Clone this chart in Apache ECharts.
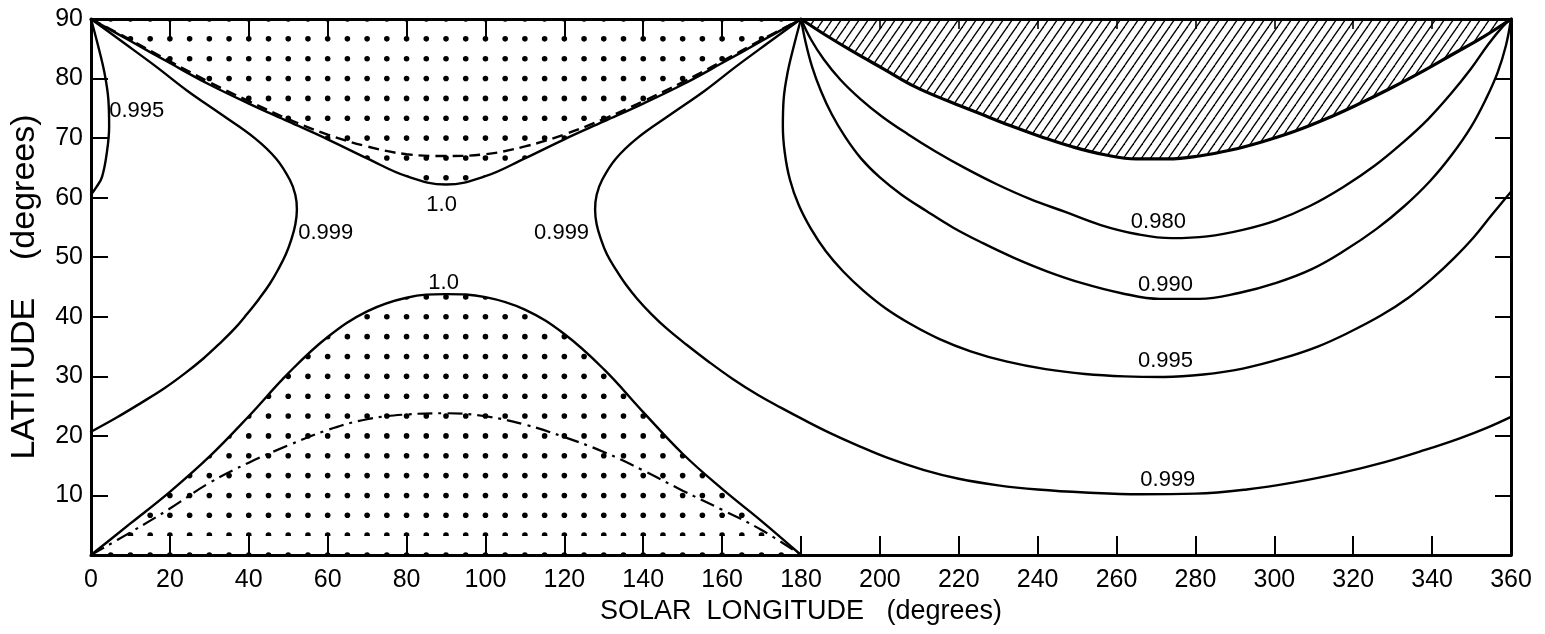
<!DOCTYPE html>
<html>
<head>
<meta charset="utf-8">
<script src="https://cdn.jsdelivr.net/npm/echarts@6/dist/echarts.min.js"></script>
<style>
  html, body { margin: 0; padding: 0; background: #fff; }
  #chart { width: 1545px; height: 634px; }
</style>
</head>
<body>
<div id="chart"></div>
<script>
// ---- values (x = solar longitude, y = latitude, degrees) ----
const lonStep = [0, 10, 20, 30, 40, 50, 60, 70, 80, 90, 100, 110, 120, 130, 140, 150, 160, 170, 180]
// upper "1.0" contour, dotted above
const upper10 = [90, 86.3, 82.6, 79, 75.8, 72.8, 69.8, 66.6, 63.6, 62.2, 63.6, 66.6, 69.8, 72.8, 75.8, 79, 82.6, 86.3, 90]
// dashed curve
const dashed = [90, 86.5, 82.9, 79.4, 76.2, 73.2, 70.6, 68.6, 67.3, 67, 67.3, 68.6, 70.6, 73.2, 76.2, 79.4, 82.9, 86.5, 90]
// lower "1.0" contour, dotted below
const lower10 = [0, 5.3, 10.6, 16.5, 23.3, 30.5, 36.6, 40.9, 43.2, 43.8, 43.3, 41.2, 37.1, 31.2, 24, 17, 11.1, 5.7, 0]
// dash-dot curve
const dashDot = [0, 3.8, 7.8, 12.1, 15.5, 18.4, 21.0, 22.8, 23.6, 23.8, 23.3, 21.9, 19.8, 17.3, 14.2, 10.8, 7.6, 4.2, 0]

// 0.999, left branch
const c999Lx = [0, 8.3, 16.5, 24.3, 33, 41.5, 47, 50.4, 51.8, 52.2, 51.8, 50.8, 49.4, 47.5, 45.3, 42.6, 39.6, 36.4, 32.6, 28.5, 23.8, 18.6, 12.6, 6.3, 0]
const c999Ly = [90, 86, 82, 78, 74, 70, 66.5, 63, 60.5, 58, 55.5, 53, 50.5, 48, 45.5, 43, 40.5, 38, 35.5, 33, 30.5, 28, 25.5, 23, 20.7]
// 0.999, right branch running on to 360
const c999Rx = [180, 171.7, 163.5, 155.7, 147, 138.5, 133, 129.6, 128.2, 127.8, 128.2, 129.3, 130.8, 133, 135.5, 138.5, 142, 146, 151, 156.5,
  162.6, 169, 175, 181, 187, 194, 202, 211, 220, 230, 240, 252, 266, 280, 293, 305, 317, 328, 338, 347, 354, 360]
const c999Ry = [90, 86, 82, 78, 74, 70, 66.5, 63, 60.5, 58, 55.5, 53, 50.5, 48, 45.5, 43, 40.5, 38, 35.3, 32.5,
  29.6, 26.9, 24.7, 22.6, 20.6, 18.5, 16.3, 14.3, 12.8, 11.7, 11, 10.5, 10.2, 10.3, 11, 12.2, 13.8, 15.6, 17.6, 19.6, 21.4, 23.2]
// small 0.995 loop at the left edge
const c995Lx = [0, 1.8, 3.4, 4.4, 4.6, 4, 2.8, 1.4, 0]
const c995Ly = [90, 85.5, 81, 76.5, 72, 67.5, 63.5, 61.8, 60.5]
// 0.995 from 180 to 360
const c995Rx = [180, 178.2, 176.6, 175.6, 175.4, 175.9, 177.2, 179.4, 182.5, 186.3, 190.7, 195.8, 201.5, 208, 215, 223, 232, 242, 252, 262, 272,
  282, 292, 302, 311, 319, 327, 334, 340, 345.5, 350.5, 355, 360]
const c995Ry = [90, 85.5, 81, 76.5, 72, 67.5, 63, 58.8, 54.8, 51, 47.6, 44.4, 41.4, 38.7, 36.3, 34.2, 32.5, 31.2, 30.4, 30, 29.9,
  30.3, 31.3, 33, 35, 37.4, 40.2, 43.2, 46.4, 49.8, 53.3, 57, 61]
// 0.990
const c990x = [180, 181.2, 182.8, 185, 187.8, 191.2, 195.2, 200, 205.5, 211.7, 218.5, 226, 234, 242.5, 251.5, 261, 271, 281, 291, 300.5,
  309.5, 318, 326, 333, 339.5, 345, 349.8, 353.6, 356.6, 358.7, 360]
const c990y = [90, 86, 82, 78, 74, 70.2, 66.6, 63.4, 60.5, 57.8, 55, 52.4, 49.9, 47.6, 45.6, 44, 43, 43, 44, 45.7,
  48, 51.2, 54.8, 58.6, 62.8, 67.2, 71.8, 76.5, 81, 85.5, 90]
// 0.980
const c980x = [180, 182.5, 185.8, 190, 195, 200.6, 207, 214, 221.5, 229.5, 238, 247, 256, 265, 274, 283, 292, 300.5, 309, 317.5,
  325.5, 332.5, 339, 344.7, 349.8, 354.3, 358, 360]
const c980y = [90, 86.6, 83.2, 79.8, 76.6, 73.6, 70.7, 67.8, 65, 62.3, 59.8, 57.6, 55.4, 53.9, 53.2, 53.5, 54.6, 56.2, 58.6, 61.8,
  65.4, 69.2, 73.2, 77.4, 81.6, 85.8, 88.8, 90]
// edge of the hatched region
const hatchX = [180, 186, 193, 201, 209, 217, 225, 233, 241, 249, 257, 265, 273, 281, 289, 297, 305, 313, 321, 329, 337, 345, 353, 360]
const hatchY = [90, 87.4, 84.6, 81.6, 78.6, 76.3, 74.2, 72.1, 70.2, 68.5, 67.2, 66.5, 66.5, 67, 68, 69.4, 71.1, 73.2, 75.6, 78.2, 81, 84, 87, 90]

const labelText = ['0.995', '0.999', '0.999', '1.0', '1.0', '0.980', '0.990', '0.995', '0.999']
const labelX = [11.6, 59.5, 119.3, 88.9, 89.4, 270.6, 272.4, 272.4, 273]
const labelY = [74.6, 54.1, 54.1, 58.8, 45.7, 56, 45.4, 32.6, 12.6]

// top-edge ticks: long over the dotted half, short notches over the hatched half
const topLongTicks = [20, 40, 60, 80, 100, 120, 140, 160]
const topShortTicks = [200, 220, 240, 260, 280, 300, 320, 340]

// ---- layout ----
const G = { left: 91, top: 19, width: 1420, height: 536 }
const FONT = '"Liberation Sans", Arial, sans-serif'

const zip = (xs, ys) => xs.map((x, i) => [x, ys[i]])

// dot texture: one dot every 5 deg of longitude and 10/3 deg of latitude
const dotPattern = (() => {
  const w = G.width / 4, h = G.height
  const cv = document.createElement('canvas')
  cv.width = Math.round(w); cv.height = h
  const ctx = cv.getContext('2d')
  ctx.fillStyle = '#000'
  const sx = G.width / 72, sy = G.height / 27
  for (let j = 0; j < 18; j++) {
    for (let k = 0; k < 27; k++) {
      const px = (G.left + j * sx) % w
      const py = ((G.top + G.height - k * sy) % h + h) % h
      ctx.beginPath()
      ctx.arc(px, py, 2.8, 0, Math.PI * 2)
      ctx.fill()
    }
  }
  return { image: cv, repeat: 'repeat' }
})()

// diagonal hatch texture
const hatchPattern = (() => {
  const W = 9, H = 13
  const cv = document.createElement('canvas')
  cv.width = W; cv.height = H
  const ctx = cv.getContext('2d')
  ctx.strokeStyle = '#000'
  ctx.lineWidth = 1.3
  for (let x0 = -W; x0 <= W; x0 += W) {
    ctx.beginPath()
    ctx.moveTo(x0, H)
    ctx.lineTo(x0 + W, 0)
    ctx.stroke()
  }
  return { image: cv, repeat: 'repeat' }
})()

const curve = (name, data, extra) => Object.assign({
  name, type: 'line', data, smooth: 0.4, showSymbol: false, silent: true,
  lineStyle: { color: '#000', width: 2.4, cap: 'round', join: 'round' }, z: 3
}, extra || {})

const chart = echarts.init(document.getElementById('chart'))

const axisCommon = {
  type: 'value',
  axisLine: { show: true, onZero: false, lineStyle: { color: '#000', width: 3 } },
  axisTick: { show: true, inside: true, lineStyle: { color: '#000', width: 2 } },
  splitLine: { show: false },
  axisLabel: { color: '#000', fontSize: 25, fontFamily: FONT }
}
const tick = (len, extra) => Object.assign({}, axisCommon.axisTick, { length: len }, extra || {})

chart.setOption({
  animation: false,
  backgroundColor: '#fff',
  grid: G,
  xAxis: [
    Object.assign({}, axisCommon, {
      min: 0, max: 360, interval: 20, position: 'bottom',
      axisTick: tick(19),
      axisLabel: Object.assign({}, axisCommon.axisLabel, { margin: 13 }),
      name: 'SOLAR  LONGITUDE   (degrees)', nameLocation: 'middle', nameGap: 42,
      nameTextStyle: { color: '#000', fontSize: 27, fontFamily: FONT }
    }),
    Object.assign({}, axisCommon, {
      min: 0, max: 360, interval: 20, position: 'top',
      axisTick: tick(19, { customValues: topLongTicks }),
      axisLabel: { show: false }
    }),
    Object.assign({}, axisCommon, {
      min: 0, max: 360, interval: 20, position: 'top',
      axisLine: { show: false, onZero: false },
      axisTick: tick(10, { customValues: topShortTicks, lineStyle: { color: '#000', width: 1.6 } }),
      axisLabel: { show: false }
    })
  ],
  yAxis: [
    Object.assign({}, axisCommon, {
      min: 0, max: 90, interval: 10, position: 'left',
      axisTick: tick(17),
      axisLabel: Object.assign({}, axisCommon.axisLabel, {
        margin: 8, formatter: v => (v === 0 ? '' : v)
      }),
      name: 'LATITUDE    (degrees)', nameLocation: 'middle', nameGap: 49,
      nameTextStyle: { color: '#000', fontSize: 34, fontFamily: FONT }
    }),
    Object.assign({}, axisCommon, {
      min: 0, max: 90, interval: 10, position: 'right',
      axisTick: tick(16),
      axisLabel: { show: false }
    })
  ],
  series: [
    curve('upper 1.0', zip(lonStep, upper10), {
      areaStyle: { origin: 'end', color: dotPattern, opacity: 1 }
    }),
    curve('lower 1.0', zip(lonStep, lower10), {
      areaStyle: { origin: 'start', color: dotPattern, opacity: 1 }
    }),
    curve('hatch edge', zip(hatchX, hatchY), {
      lineStyle: { color: '#000', width: 3.2, cap: 'round', join: 'round' },
      areaStyle: { origin: 'end', color: hatchPattern, opacity: 1 }
    }),
    curve('dashed', zip(lonStep, dashed), {
      lineStyle: { color: '#000', width: 2.4, type: [11, 6] }
    }),
    curve('dash-dot', zip(lonStep, dashDot), {
      lineStyle: { color: '#000', width: 2.2, type: [15, 6, 3, 6] }
    }),
    curve('0.999 left', zip(c999Lx, c999Ly)),
    curve('0.999 right', zip(c999Rx, c999Ry)),
    curve('0.995 left', zip(c995Lx, c995Ly)),
    curve('0.995 right', zip(c995Rx, c995Ry)),
    curve('0.990', zip(c990x, c990y)),
    curve('0.980', zip(c980x, c980y)),
    {
      name: 'labels', type: 'scatter', silent: true, z: 5,
      symbolSize: 1, itemStyle: { color: 'rgba(0,0,0,0)', opacity: 1 },
      data: labelText.map((t, i) => [labelX[i], labelY[i], t]),
      label: {
        show: true, position: 'inside', formatter: p => p.value[2],
        color: '#000', opacity: 1, fontSize: 22, fontFamily: FONT,
        textBorderWidth: 0, textShadowBlur: 0
      }
    }
  ]
})
</script>
</body>
</html>
